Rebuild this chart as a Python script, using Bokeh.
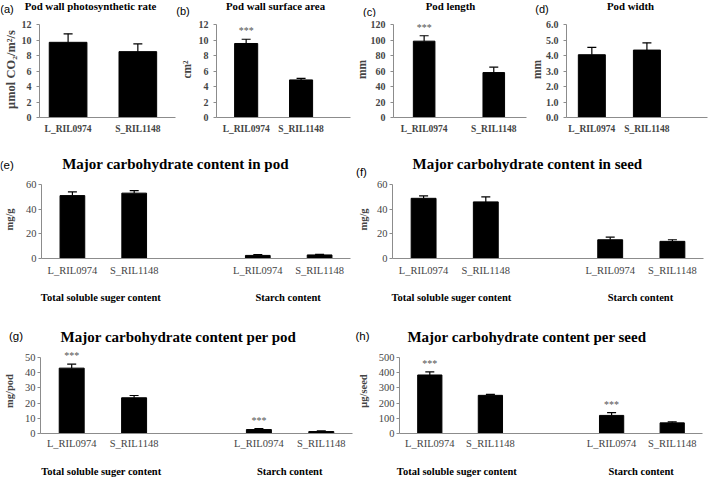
from bokeh.plotting import figure
from bokeh.models import (Range1d, FactorRange, FixedTicker, Label, LabelSet,
                          ColumnDataSource, Whisker, TeeHead, NumeralTickFormatter)
from bokeh.layouts import column, row
from bokeh.embed import file_html
from bokeh.resources import INLINE

SERIF = "Liberation Serif"
SANS = "Liberation Sans"
AXIS_GREY = "#8c8c8c"

# ---------------- data ----------------
genotypes = ["L_RIL0974", "S_RIL1148"]
groups = ["Total soluble suger content", "Starch content"]

photo_rate = [9.7, 8.5]
photo_rate_se = [1.1, 1.0]
photo_rate_sig = ["", ""]

wall_area = [9.55, 4.85]
wall_area_se = [0.55, 0.2]
wall_area_sig = ["***", ""]

pod_len = [98.5, 58.0]
pod_len_se = [7.0, 7.0]
pod_len_sig = ["***", ""]

pod_wid = [4.05, 4.35]
pod_wid_se = [0.47, 0.47]
pod_wid_sig = ["", ""]

# (e)-(h): order = sugar L, sugar S, starch L, starch S
pod_content = [51.0, 53.0, 2.5, 2.9]
pod_content_se = [3.0, 2.0, 0.6, 0.5]
pod_content_sig = ["", "", "", ""]

seed_content = [48.8, 45.9, 15.2, 13.9]
seed_content_se = [1.9, 4.0, 2.1, 1.3]
seed_content_sig = ["", "", "", ""]

per_pod = [43.0, 23.5, 2.6, 1.3]
per_pod_se = [2.6, 1.5, 0.6, 0.4]
per_pod_sig = ["***", "", "***", ""]

per_seed = [385, 251, 119, 70]
per_seed_se = [20, 7, 18, 7]
per_seed_sig = ["***", "", "***", ""]

yt_a = [0, 2, 4, 6, 8, 10, 12]
yt_b = [0, 2, 4, 6, 8, 10, 12]
yt_c = [0, 20, 40, 60, 80, 100, 120]
yt_d = [0, 1, 2, 3, 4, 5, 6]
yt_e = [0, 20, 40, 60]
yt_f = [0, 20, 40, 60]
yt_g = [0, 10, 20, 30, 40, 50]
yt_h = [0, 100, 200, 300, 400, 500]

PAGE_W = 708


def blank_fig(W, H, x_range, y_range, bl=0, br=0):
    p = figure(width=W, height=H, x_range=x_range, y_range=y_range,
               output_backend="svg", toolbar_location=None,
               x_axis_location=None, y_axis_location=None,
               min_border_left=bl, min_border_right=br,
               min_border_top=0, min_border_bottom=0)
    p.grid.visible = False
    p.outline_line_color = None
    return p


def header(h, items):
    p = blank_fig(PAGE_W, h, Range1d(0, PAGE_W), Range1d(0, h))
    for text, x, y, size, font, bold in items:
        p.add_layout(Label(x=x, y=h - y, text=text, text_align="center",
                           text_baseline="middle", text_font=font,
                           text_font_size=size,
                           text_font_style="bold" if bold else "normal",
                           text_color="black"))
    return p


def footer(W, h, bl, br, x_range, y_center):
    p = blank_fig(W, h, x_range, Range1d(0, h), bl, br)
    src = ColumnDataSource(dict(g=groups, y=[h - y_center] * len(groups)))
    p.add_layout(LabelSet(source=src, x="g", y="y", text="g",
                          text_align="center", text_baseline="middle",
                          text_font=SERIF, text_font_style="bold",
                          text_font_size="10.5px", text_color="black"))
    return p


def plot_fig(W, H, bl, br, bt, bb, axis_px, x_range, yticks):
    frame_px = H - bt - bb
    ymax = yticks[-1]
    p = figure(width=W, height=H, x_range=x_range,
               y_range=Range1d(yticks[0], ymax * frame_px / axis_px),
               output_backend="svg", toolbar_location=None,
               min_border_left=bl, min_border_right=br,
               min_border_top=bt, min_border_bottom=bb)
    p.grid.visible = False
    p.outline_line_color = None
    p.xaxis.axis_line_color = AXIS_GREY
    p.yaxis.axis_line_color = AXIS_GREY
    p.xaxis.major_tick_line_color = None
    p.xaxis.minor_tick_line_color = None
    p.xaxis.major_tick_out = 0
    p.xaxis.major_tick_in = 0
    p.yaxis.minor_tick_line_color = None
    p.yaxis.major_tick_line_color = AXIS_GREY
    p.yaxis.major_tick_out = 3
    p.yaxis.major_tick_in = 0
    p.yaxis.ticker = FixedTicker(ticks=yticks)
    p.yaxis.bounds = (yticks[0], ymax)
    return p


def add_bars(p, xs, means, ses, sigs, bw):
    src = ColumnDataSource(dict(x=xs, top=means,
                                up=[m + s for m, s in zip(means, ses)],
                                sig=sigs))
    p.vbar(x="x", top="top", width=bw, source=src,
           fill_color="black", line_color="black")
    p.add_layout(Whisker(source=src, base="x", lower="top", upper="up",
                         dimension="height", line_color="black", line_width=1.2,
                         lower_head=None,
                         upper_head=TeeHead(size=9, line_color="black", line_width=1.2)))
    p.add_layout(LabelSet(source=src, x="x", y="up", text="sig",
                          text_align="center", text_baseline="bottom",
                          y_offset=3, text_font=SERIF, text_font_size="10px",
                          text_color="#555555"))


# ---------------- row 1 ----------------
H1, BT1, BB1, AX1 = 121, 4, 21, 93
row1_cfg = [
    dict(ylabel="μmol CO₂/m²/s", m=photo_rate, s=photo_rate_se, sig=photo_rate_sig,
         yt=yt_a, fmt=None, W=177, bl=34, br=2, xr=(-0.41, 1.54), bw=0.54,
         yls="12.5px", yst=1),
    dict(ylabel="cm²", m=wall_area, s=wall_area_se, sig=wall_area_sig,
         yt=yt_b, fmt=None, W=175, bl=39, br=2, xr=(-0.54, 1.9), bw=0.42,
         yls="11.5px", yst=3),
    dict(ylabel="mm", m=pod_len, s=pod_len_se, sig=pod_len_sig,
         yt=yt_c, fmt=None, W=175, bl=37, br=1, xr=(-0.44, 1.47), bw=0.31,
         yls="11.5px", yst=0),
    dict(ylabel="mm", m=pod_wid, s=pod_wid_se, sig=pod_wid_sig,
         yt=yt_d, fmt="0.0", W=181, bl=39, br=1, xr=(-0.46, 2.1), bw=0.49,
         yls="11.5px", yst=0),
]

row1 = []
for c in row1_cfg:
    p = plot_fig(c["W"], H1, c["bl"], c["br"], BT1, BB1, AX1, Range1d(*c["xr"]), c["yt"])
    xs = list(range(len(genotypes)))
    add_bars(p, xs, c["m"], c["s"], c["sig"], c["bw"])
    p.xaxis.ticker = FixedTicker(ticks=xs)
    p.xaxis.major_label_overrides = {x: g for x, g in zip(xs, genotypes)}
    p.xaxis.major_label_text_font = SERIF
    p.xaxis.major_label_text_font_style = "bold"
    p.xaxis.major_label_text_font_size = "9.5px"
    p.xaxis.major_label_standoff = 6
    p.yaxis.major_label_text_font = SERIF
    p.yaxis.major_label_text_font_style = "bold"
    p.yaxis.major_label_text_font_size = "10px"
    p.yaxis.major_label_standoff = 5
    if c["fmt"]:
        p.yaxis.formatter = NumeralTickFormatter(format=c["fmt"])
    p.yaxis.axis_label = c["ylabel"]
    p.yaxis.axis_label_text_font = SERIF
    p.yaxis.axis_label_text_font_style = "bold"
    p.yaxis.axis_label_text_font_size = c["yls"]
    p.yaxis.axis_label_standoff = c["yst"]
    row1.append(p)

head1 = header(17, [
    ("(a)", 6.5, 8, "11px", SANS, False),
    ("Pod wall photosynthetic rate", 90, 5, "10.8px", SERIF, True),
    ("(b)", 182.5, 10, "11px", SANS, False),
    ("Pod wall surface area", 275, 5, "10.8px", SERIF, True),
    ("(c)", 369, 11, "11px", SANS, False),
    ("Pod length", 450, 5, "10.8px", SERIF, True),
    ("(d)", 541.5, 8, "11px", SANS, False),
    ("Pod width", 630, 5.5, "10.8px", SERIF, True),
])

# ---------------- rows 2 and 3 ----------------
factors = [(g, s) for g in groups for s in genotypes]

low_cfg = [
    dict(ylabel="mg/g", m=pod_content, s=pod_content_se, sig=pod_content_sig, yt=yt_e,
         W=354, H=105, bl=38, br=4, bt=2, bb=25, ax=74, fh=22, fy=14, lst=6, yst=8),
    dict(ylabel="mg/g", m=seed_content, s=seed_content_se, sig=seed_content_sig, yt=yt_f,
         W=354, H=105, bl=34, br=5, bt=2, bb=25, ax=74, fh=22, fy=14, lst=6, yst=5),
    dict(ylabel="mg/pod", m=per_pod, s=per_pod_se, sig=per_pod_sig, yt=yt_g,
         W=354, H=108, bl=38, br=2, bt=2, bb=21, ax=76, fh=23, fy=17, lst=4, yst=7),
    dict(ylabel="μg/seed", m=per_seed, s=per_seed_se, sig=per_seed_sig, yt=yt_h,
         W=354, H=108, bl=41, br=6, bt=2, bb=21, ax=76, fh=23, fy=17, lst=4, yst=7),
]

low, feet = [], []
for c in low_cfg:
    xr = FactorRange(factors=factors, group_padding=1.0, range_padding=0, factor_padding=0)
    p = plot_fig(c["W"], c["H"], c["bl"], c["br"], c["bt"], c["bb"], c["ax"], xr, c["yt"])
    add_bars(p, factors, c["m"], c["s"], c["sig"], 0.4)
    ax = p.xaxis[0]
    ax.major_label_text_font = SERIF
    ax.major_label_text_font_size = "10.5px"
    ax.major_label_standoff = c["lst"]
    ax.group_text_color = None
    ax.group_text_font_size = "0px"
    ax.separator_line_color = None
    p.yaxis.major_label_text_font = SERIF
    p.yaxis.major_label_text_font_size = "10.5px"
    p.yaxis.major_label_standoff = 2
    p.yaxis.axis_label = c["ylabel"]
    p.yaxis.axis_label_text_font = SERIF
    p.yaxis.axis_label_text_font_style = "bold"
    p.yaxis.axis_label_text_font_size = "10.5px"
    p.yaxis.axis_label_standoff = c["yst"]
    low.append(p)
    feet.append(footer(c["W"], c["fh"], c["bl"], c["br"], xr, c["fy"]))

head2 = header(40, [
    ("(e)", 6.2, 26, "11.5px", SANS, False),
    ("Major carbohydrate content in pod", 175, 25, "15px", SERIF, True),
    ("(f)", 361, 33, "11.5px", SANS, False),
    ("Major carbohydrate content in seed", 527, 25, "15px", SERIF, True),
])
head3 = header(41, [
    ("(g)", 15.5, 30.5, "11.5px", SANS, False),
    ("Major carbohydrate content per pod", 178, 31, "15px", SERIF, True),
    ("(h)", 362, 30, "11.5px", SANS, False),
    ("Major carbohydrate content per seed", 526.5, 31, "15px", SERIF, True),
])

layout = column(
    head1, row(*row1),
    head2, row(low[0], low[1]), row(feet[0], feet[1]),
    head3, row(low[2], low[3]), row(feet[2], feet[3]),
)

with open("out.html", "w") as f:
    f.write(file_html(layout, INLINE))
